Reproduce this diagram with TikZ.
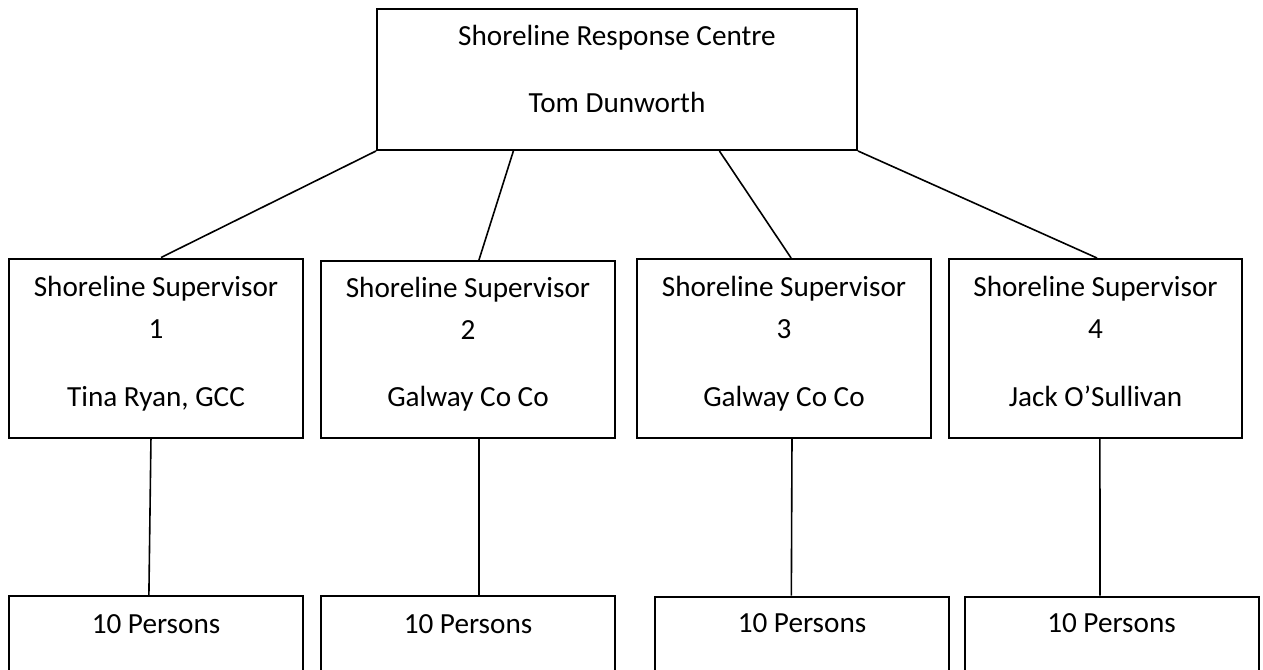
\documentclass[tikz,border=0pt]{standalone}
\usepackage{fontspec}
\setmainfont{Carlito}
\usetikzlibrary{calc}
\tikzset{
  box/.style={draw, line width=1pt, inner sep=0pt, minimum width=147pt, minimum height=89.5pt},
  lowbox/.style={box, minimum height=62pt},
  txt/.style={anchor=base, inner sep=0pt, font=\fontsize{14.6pt}{17pt}\selectfont},
  link/.style={line width=0.8pt}
}
\begin{document}
\begin{tikzpicture}[x=0.5pt,y=-0.5pt]
\useasboundingbox (0,0) rectangle (1263,669);
\clip (0,0) rectangle (1263,669);
% top box
\node[box, minimum width=240pt, minimum height=70.5pt] (centre) at (617,79.5) {};
\node[txt] (centreA) at ($(centre.north)+(0,38)$) {Shoreline Response Centre};
\node[txt] (centreB) at ($(centre.north)+(0,104)$) {Tom Dunworth};
% supervisors
\node[box] (sup1) at (156,348) {};
\node[box, minimum height=88.5pt] (sup2) at (468,349.5) {};
\node[box] (sup3) at (784,348.5) {};
\node[box, minimum width=146.5pt] (sup4) at (1095.5,348.5) {};
\node[txt] (sup1A) at ($(sup1.north)+(0,39)$) {Shoreline Supervisor};
\node[txt] (sup1B) at ($(sup1.north)+(0,81)$) {1};
\node[txt] (sup1C) at ($(sup1.north)+(0,149)$) {Tina Ryan, GCC};
\node[txt] (sup2A) at ($(sup2.north)+(0,37)$) {Shoreline Supervisor};
\node[txt] (sup2B) at ($(sup2.north)+(0,79)$) {2};
\node[txt] (sup2C) at ($(sup2.north)+(0,146)$) {Galway Co Co};
\node[txt] (sup3A) at ($(sup3.north)+(0,38)$) {Shoreline Supervisor};
\node[txt] (sup3B) at ($(sup3.north)+(0,80)$) {3};
\node[txt] (sup3C) at ($(sup3.north)+(0,148)$) {Galway Co Co};
\node[txt] (sup4A) at ($(sup4.north)+(0,38)$) {Shoreline Supervisor};
\node[txt] (sup4B) at ($(sup4.north)+(0,80)$) {4};
\node[txt] (sup4C) at ($(sup4.north)+(0,148)$) {Jack O’Sullivan};
% teams
\node[lowbox] (team1) at (156,658) {};
\node[lowbox] (team2) at (468,658) {};
\node[lowbox] (team3) at (802,658.5) {};
\node[lowbox] (team4) at (1111.5,658.5) {};
\node[txt] (team1A) at ($(team1.north)+(0,38)$) {10 Persons};
\node[txt] (team2A) at ($(team2.north)+(0,38)$) {10 Persons};
\node[txt] (team3A) at ($(team3.north)+(0,37)$) {10 Persons};
\node[txt] (team4A) at ($(team4.north)+(0,37)$) {10 Persons};
% links
\draw[link] (centre.south west) -- ($(sup1.north west)!0.517!(sup1.north east)$);
\draw[link] ($(centre.south west)!0.285!(centre.south east)$) -- ($(sup2.north west)!0.537!(sup2.north east)$);
\draw[link] ($(centre.south west)!0.7125!(centre.south east)$) -- ($(sup3.north west)!0.524!(sup3.north east)$);
\draw[link] (centre.south east) -- ($(sup4.north west)!0.505!(sup4.north east)$);
\draw[link] ($(sup1.south west)!0.483!(sup1.south east)$) -- ($(team1.north west)!0.476!(team1.north east)$);
\draw[link] ($(sup2.south west)!0.537!(sup2.south east)$) -- ($(team2.north west)!0.537!(team2.north east)$);
\draw[link] ($(sup3.south west)!0.527!(sup3.south east)$) -- ($(team3.north west)!0.464!(team3.north east)$);
\draw[link] ($(sup4.south west)!0.515!(sup4.south east)$) -- ($(team4.north west)!0.461!(team4.north east)$);
\end{tikzpicture}
\end{document}
